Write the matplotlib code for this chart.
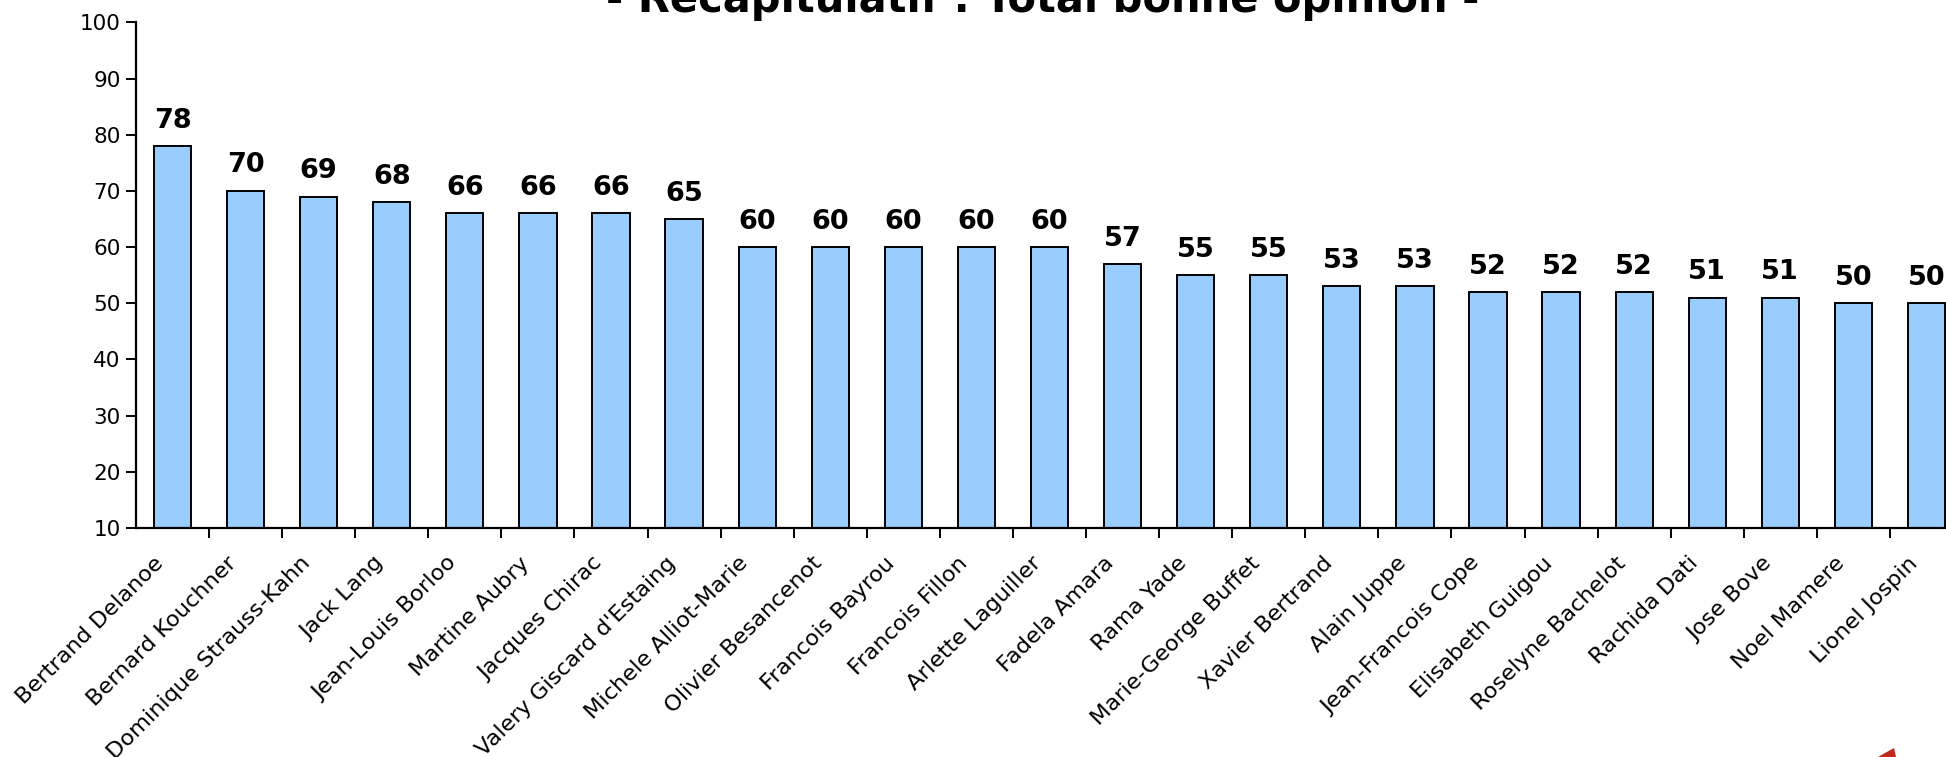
import matplotlib.pyplot as plt
from matplotlib.ticker import FixedLocator
from matplotlib.transforms import ScaledTranslation
from matplotlib.patches import Polygon

names = ["Bertrand Delanoe", "Bernard Kouchner", "Dominique Strauss-Kahn", "Jack Lang",
         "Jean-Louis Borloo", "Martine Aubry", "Jacques Chirac", "Valery Giscard d'Estaing",
         "Michele Alliot-Marie", "Olivier Besancenot", "Francois Bayrou", "Francois Fillon",
         "Arlette Laguiller", "Fadela Amara", "Rama Yade", "Marie-George Buffet",
         "Xavier Bertrand", "Alain Juppe", "Jean-Francois Cope", "Elisabeth Guigou",
         "Roselyne Bachelot", "Rachida Dati", "Jose Bove", "Noel Mamere", "Lionel Jospin"]
values = [78, 70, 69, 68, 66, 66, 66, 65, 60, 60, 60, 60, 60, 57, 55, 55,
          53, 53, 52, 52, 52, 51, 51, 50, 50]
yticks = [10, 20, 30, 40, 50, 60, 70, 80, 90, 100]
title = "- Recapitulatif : Total bonne opinion -"

plt.rcParams['font.family'] = ['DejaVu Sans']

W, H = 1946, 757
fig = plt.figure(figsize=(W / 100, H / 100), dpi=100)
ax = fig.add_axes([136 / W, 1 - 528 / H, (1963 - 136) / W, (528 - 22.5) / H])

x = list(range(len(names)))
ax.bar(x, [v - 10 for v in values], bottom=10, width=0.51, color='#99CCFF',
       edgecolor='black', linewidth=1.4, zorder=2)

for xi, v in zip(x, values):
    ax.annotate(str(v), (xi, v), xytext=(0, 9), textcoords='offset points',
                ha='center', va='bottom', fontsize=19.5, fontweight='bold')

ax.set_xlim(-0.5, len(names) - 0.5)
ax.set_ylim(10, 100)
ax.set_yticks(yticks)
ax.tick_params(axis='y', labelsize=15.5, length=7, width=1.4, pad=4)

ax.set_xticks(x)
ax.set_xticklabels(names, rotation=45, ha='right', va='top',
                   rotation_mode='anchor', fontsize=16.2)
ax.tick_params(axis='x', which='major', length=0, pad=18)
shift = ScaledTranslation(-19 / 100, 0, fig.dpi_scale_trans)
for lab in ax.get_xticklabels():
    lab.set_transform(lab.get_transform() + shift)
ax.xaxis.set_minor_locator(FixedLocator([i + 0.5 for i in range(len(names))]))
ax.tick_params(axis='x', which='minor', length=7, width=1.4)

for s in ['top', 'right']:
    ax.spines[s].set_visible(False)
for s in ['left', 'bottom']:
    ax.spines[s].set_linewidth(1.6)

fig.text(1043 / W, 1 - 12 / H, title, ha='center', va='baseline',
         fontsize=30, fontweight='bold')

# small red corner of a logo, cut by the bottom edge
fig.patches.append(Polygon([(1878 / W, 0), (1896 / W, 0), (1894 / W, 9 / H)],
                           closed=True, transform=fig.transFigure,
                           facecolor='#C0281C', edgecolor='none'))

fig.savefig('out.png', dpi=100)
